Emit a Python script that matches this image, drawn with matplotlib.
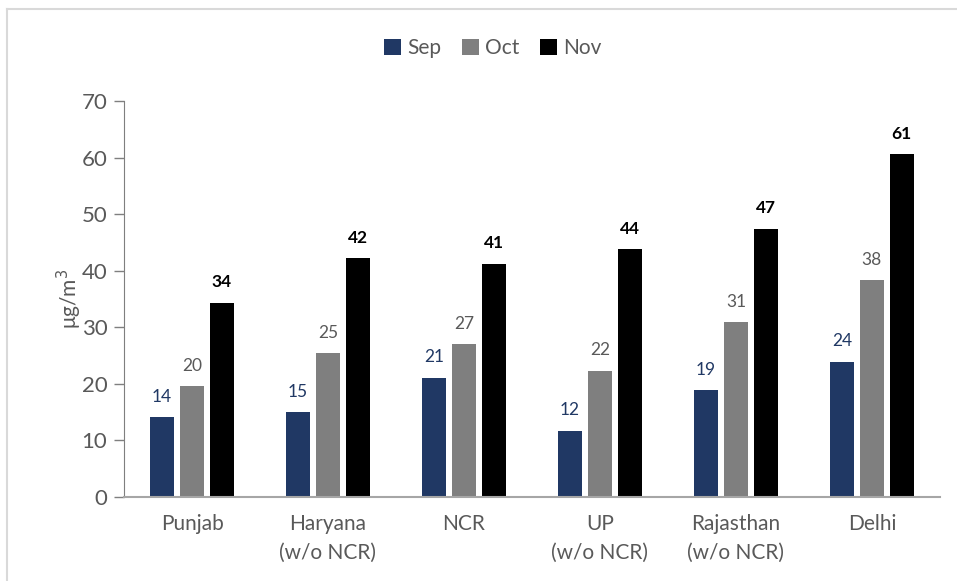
import matplotlib
matplotlib.use("Agg")
import matplotlib.pyplot as plt
from matplotlib.lines import Line2D
import numpy as np

plt.rcParams['font.family'] = ['Lato', 'DejaVu Sans']

# --- data ---
regions = ["Punjab", "Haryana\n(w/o NCR)", "NCR", "UP\n(w/o NCR)", "Rajasthan\n(w/o NCR)", "Delhi"]
sep = [14.1, 15.0, 21.1, 11.7, 18.9, 23.9]
oct_ = [19.6, 25.4, 27.0, 22.3, 30.9, 38.3]
nov = [34.3, 42.2, 41.2, 43.8, 47.4, 60.6]

series = ["Sep", "Oct", "Nov"]
colors = ["#203864", "#7f7f7f", "#000000"]
label_colors = ["#203864", "#595959", "#000000"]
label_weights = ["normal", "normal", "bold"]

fig = plt.figure(figsize=(9.57, 5.81), dpi=100)
ax = fig.add_axes([0.1296, 0.1446, 0.8525, 0.6816])

x = np.arange(len(regions))
width = 0.176
pitch = 0.22

for i, (vals, name) in enumerate(zip([sep, oct_, nov], series)):
    pos = x + (i - 1) * pitch
    ax.bar(pos, vals, width, color=colors[i], label=name, zorder=2)
    for p, v in zip(pos, vals):
        ax.text(p, v + 2.2, f"{round(v):d}", ha='center', va='bottom',
                fontsize=12.5, color=label_colors[i], fontweight=label_weights[i])

ax.set_xlim(-0.5, len(regions) - 0.5)
ax.set_ylim(0, 70)
ax.set_yticks(range(0, 71, 10))
ax.set_xticks(x)
ax.set_xticklabels(regions, fontsize=15, color="#595959", linespacing=1.55)
ax.tick_params(axis='y', labelsize=16, colors="#595959", length=7, width=1,
               color="#7f7f7f", pad=5)
ax.tick_params(axis='x', length=0, pad=12)
for s in ["top", "right"]:
    ax.spines[s].set_visible(False)
ax.spines["left"].set_color("#7f7f7f")
ax.spines["bottom"].set_color("#a6a6a6")
ax.spines["bottom"].set_linewidth(1.5)

ax.set_ylabel("μg/m$^3$", fontsize=15, color="#595959", labelpad=-2)

handles, labels = ax.get_legend_handles_labels()
fig.legend(handles, labels, loc='center', bbox_to_anchor=(0.515, 0.917), ncol=3,
           frameon=False, fontsize=15, handlelength=0.8, handleheight=0.8,
           handletextpad=0.3, columnspacing=1.0, labelcolor="#595959")

# light frame on top and left of the figure
fig.add_artist(Line2D([7 / 957, 7 / 957], [0, 1 - 9 / 581], color="#d9d9d9", lw=1.5))
fig.add_artist(Line2D([7 / 957, 1], [1 - 9 / 581, 1 - 9 / 581], color="#d9d9d9", lw=1.5))

fig.savefig("out.png", dpi=100)
